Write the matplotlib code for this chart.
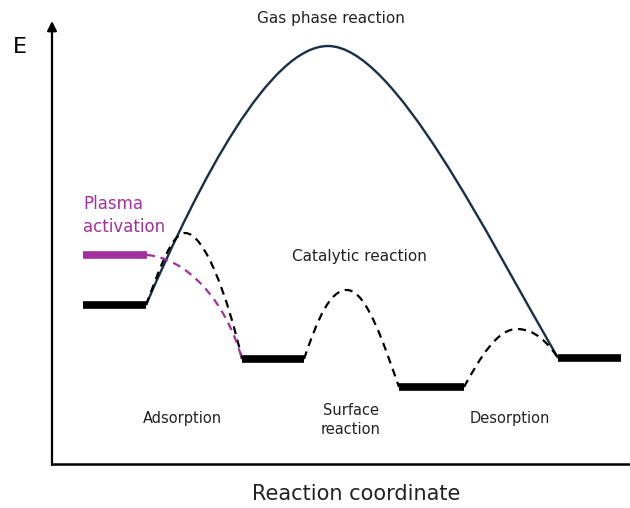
import numpy as np
import matplotlib.pyplot as plt
from matplotlib.path import Path
from matplotlib.patches import PathPatch

# energy levels (x start, x end) and energy
stage_x = [(83, 146), (242, 304), (399, 464), (558, 621)]
stage_E = [203, 149, 121, 150]
plasma_x = (83, 147)
plasma_E = 253

# bezier control points (reaction coordinate, energy)
gas_pts = [(146, 203), (200, 328), (270, 462), (328, 462),
           (394, 462), (486, 274), (558, 150)]
hump1_pts = [(146, 203), (160, 240), (172, 275), (185, 275),
             (205, 275), (228, 210), (242, 149)]
plasma_pts = [(147, 253), (185, 250), (225, 210), (242, 149)]
hump2_pts = [(304, 149), (318, 190), (330, 218), (347, 218),
             (367, 218), (385, 160), (399, 121)]
hump3_pts = [(464, 121), (480, 150), (497, 179), (517, 179),
             (535, 179), (548, 165), (558, 150)]

purple = '#A3309F'
navy = '#17304A'


def bezier(ax, pts, **kw):
    codes = [Path.MOVETO] + [Path.CURVE4] * (len(pts) - 1)
    ax.add_patch(PathPatch(Path(pts, codes), fill=False, **kw))


fig = plt.figure(figsize=(6.3, 5.08), dpi=100)
ax = fig.add_axes([0, 0, 1, 1])
ax.set_xlim(0, 630)
ax.set_ylim(0, 508)
ax.axis('off')

# axes
ax.annotate('', xy=(52, 487), xytext=(52, 43),
            arrowprops=dict(arrowstyle='-|>', lw=1.6, color='black',
                            mutation_scale=14, shrinkA=0, shrinkB=0))
ax.plot([51, 640], [44, 44], color='black', lw=1.8, solid_capstyle='butt')

# curves
bezier(ax, gas_pts, edgecolor=navy, lw=1.7)
dash = (0, (3.6, 2.6))
bezier(ax, hump1_pts, edgecolor='black', lw=1.6, linestyle=dash)
bezier(ax, hump2_pts, edgecolor='black', lw=1.6, linestyle=dash)
bezier(ax, hump3_pts, edgecolor='black', lw=1.6, linestyle=dash)
bezier(ax, plasma_pts, edgecolor=purple, lw=1.6, linestyle=dash)

# levels
for (x0, x1), e in zip(stage_x, stage_E):
    ax.plot([x0, x1], [e, e], color='black', lw=5.5, solid_capstyle='butt')
ax.plot(plasma_x, [plasma_E, plasma_E], color=purple, lw=5.5, solid_capstyle='butt')

# labels
ax.text(20, 461, 'E', fontsize=16, ha='center', va='center')
ax.text(331, 490, 'Gas phase reaction', fontsize=11, ha='center', va='center', color='#222222')
ax.text(83, 304, 'Plasma', fontsize=12, ha='left', va='center', color=purple)
ax.text(83, 281, 'activation', fontsize=12, ha='left', va='center', color=purple)
ax.text(359, 251, 'Catalytic reaction', fontsize=11, ha='center', va='center', color='#222222')
ax.text(182, 89, 'Adsorption', fontsize=10.5, ha='center', va='center', color='#222222')
ax.text(351, 88, 'Surface\nreaction', fontsize=10.5, ha='center', va='center',
        color='#222222', linespacing=1.4)
ax.text(510, 89, 'Desorption', fontsize=10.5, ha='center', va='center', color='#222222')
ax.text(356, 14, 'Reaction coordinate', fontsize=15, ha='center', va='center', color='#222222')

fig.savefig('out.png', dpi=100)
